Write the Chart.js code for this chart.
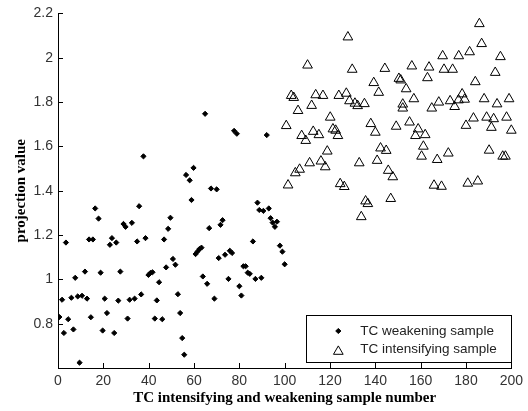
<!DOCTYPE html>
<html>
<head>
<meta charset="utf-8">
<script src="https://cdn.jsdelivr.net/npm/chart.js@4/dist/chart.umd.min.js"></script>
<style>
html,body{margin:0;padding:0;background:#fff;}
#wrap{width:528px;height:411px;position:relative;}
</style>
</head>
<body>
<div id="wrap"><canvas id="c" width="528" height="411"></canvas></div>
<script>
// ---- data ----
const weakeningLabel = "TC weakening sample";
const intensifyingLabel = "TC intensifying sample";

const weakX = [0.6,1.8,2.6,3.5,4.5,5.9,6.8,7.6,8.7,9.5,10.6,11.9,12.8,13.7,14.5,15.4,16.4,17.9,18.8,19.7,20.6,21.6,22.9,23.8,24.8,25.7,26.6,27.5,28.9,29.8,30.7,31.6,32.6,33.8,34.9,35.8,36.7,37.7,38.6,39.9,40.8,41.7,42.7,43.6,44.6,46,46.8,47.7,48.6,49.6,50.7,51.8,52.9,53.9,54.8,55.7,56.5,58.1,58.9,59.8,60.7,61.6,62.4,63.3,63.9,64.9,65.8,66.7,67.5,69,70,70.9,71.7,72.6,73.7,75.2,75.8,76.8,77.7,78.9,80,80.9,81.8,82.8,83.7,84.6,86,87.1,88,88.8,89.7,90.6,92.1,93,93.8,94.7,95.7,96.6,97.9,99,100];
const weakY = [0.83,0.908,0.758,1.166,0.82,0.917,0.774,1.007,0.923,0.624,0.926,1.035,0.913,1.18,0.829,1.18,1.32,1.274,1.03,0.769,0.913,0.848,1.156,1.186,0.758,1.166,0.904,1.035,1.25,1.237,0.823,0.908,1.255,0.913,1.171,1.33,0.932,1.555,1.186,1.02,1.029,1.032,0.823,0.905,0.987,0.82,1.18,1.054,1.228,1.278,1.092,1.066,0.933,0.848,0.735,0.66,1.471,1.447,1.358,1.503,1.114,1.126,1.137,1.143,1.013,1.747,0.98,1.231,1.41,0.913,1.406,1.096,1.246,1.267,1.111,1.002,1.129,1.119,1.67,1.657,0.969,0.927,1.059,1.059,1.03,1.025,1.171,1.002,1.346,1.313,1.007,1.309,1.651,1.32,1.276,1.256,1.237,1.26,1.152,1.125,1.068];

const intX = [127.9,110.1,129.8,144.2,150.4,151.2,139.3,141.5,153.6,102.9,104,113.7,116.9,123.9,127.2,105.9,111.9,128.6,131,132.2,135.2,152.1,152.1,120.1,100.7,107.5,109.3,112.6,115.1,121.3,122.5,123.5,138,140,149.2,118.8,142.3,144.8,111,116,117.9,132.9,140.8,104.7,106.6,145.7,147.7,101.5,124.5,126.3,135.7,136.7,146.8,133.8,
  185.9,186.9,169.7,176.8,181.6,195.2,156.1,163.7,170.3,174.1,192.9,163,184.1,157,164.9,168,173,176.7,178.3,179.4,175,188,193.7,199,155.1,158.9,157.7,162,161.2,160.4,167.3,172.2,180,183.3,189.1,192.2,191.2,197.9,200,190.2,196.2,197.4,165.9,169.2,180.8,185.2];
const intY = [2.093,1.966,1.947,1.951,1.906,1.899,1.887,1.843,1.859,1.829,1.82,1.832,1.829,1.829,1.839,1.761,1.784,1.805,1.794,1.783,1.792,1.79,1.772,1.731,1.693,1.648,1.626,1.667,1.652,1.678,1.672,1.648,1.702,1.663,1.69,1.578,1.592,1.581,1.525,1.533,1.507,1.525,1.536,1.48,1.496,1.491,1.462,1.425,1.431,1.418,1.353,1.341,1.364,1.282,
  2.153,2.063,2.008,2.008,2.026,2.004,1.962,1.957,1.947,1.947,1.933,1.909,1.891,1.814,1.772,1.799,1.805,1.809,1.836,1.812,1.779,1.814,1.791,1.814,1.709,1.678,1.648,1.652,1.6,1.555,1.54,1.569,1.694,1.727,1.731,1.724,1.685,1.731,1.672,1.582,1.555,1.555,1.424,1.419,1.433,1.443];

const xTicks = [0,20,40,60,80,100,120,140,160,180,200];
const yTicks = [0.8,1,1.2,1.4,1.6,1.8,2,2.2];
const xTitle = "TC intensifying and weakening sample number";
const yTitle = "projection value";

// ---- build ----
const toPts = (xs, ys) => xs.map((x, i) => ({x: x, y: ys[i]}));
const tickFont = {family: "'Liberation Sans',Arial,sans-serif", size: 14};
const titleFont = {family: "'Liberation Serif','Times New Roman',serif", size: 15, weight: 'bold'};

const weakStyle = {pointStyle: 'rectRot', radius: 2.6, backgroundColor: '#000', borderColor: '#000', borderWidth: 1};
const intStyle = {pointStyle: 'triangle', radius: 5.6, backgroundColor: 'rgba(0,0,0,0)', borderColor: '#000', borderWidth: 1};

const inwardTicks = {
  id: 'inwardTicks',
  afterDraw(chart) {
    const ctx = chart.ctx, xs = chart.scales.x, ys = chart.scales.y;
    const a = chart.chartArea;
    ctx.save();
    ctx.strokeStyle = '#000';
    ctx.lineWidth = 1;
    ctx.beginPath();
    xTicks.forEach(v => {
      const p = Math.round(xs.getPixelForValue(v)) + 0.5;
      ctx.moveTo(p, a.bottom); ctx.lineTo(p, a.bottom - 5);
    });
    yTicks.forEach(v => {
      const p = Math.round(ys.getPixelForValue(v)) + 0.5;
      ctx.moveTo(a.left, p); ctx.lineTo(a.left + 5, p);
    });
    ctx.stroke();
    ctx.restore();
  }
};

const boxLegend = {
  id: 'boxLegend',
  afterDraw(chart) {
    const ctx = chart.ctx, a = chart.chartArea;
    const right = a.right, bottom = a.bottom - 6;
    const w = 205, h = 47;
    const left = right - w, top = bottom - h;
    ctx.save();
    ctx.fillStyle = '#fff';
    ctx.fillRect(left, top, w, h);
    ctx.strokeStyle = '#000';
    ctx.lineWidth = 1;
    ctx.strokeRect(Math.round(left) + 0.5, Math.round(top) + 0.5, w, h);
    const items = chart.data.datasets;
    const rows = [top + 16, top + 34.5];
    items.forEach((ds, i) => {
      const opt = {pointStyle: ds.pointStyle, radius: ds.pointRadius, borderWidth: ds.borderWidth, rotation: 0};
      ctx.fillStyle = ds.backgroundColor;
      ctx.strokeStyle = ds.borderColor;
      ctx.lineWidth = ds.borderWidth;
      Chart.helpers.drawPoint(ctx, opt, left + 32, rows[i] + (i === 1 ? 2 : 0));
      ctx.fillStyle = '#222';
      ctx.font = "13.5px 'Liberation Sans',Arial,sans-serif";
      ctx.textBaseline = 'middle';
      ctx.textAlign = 'left';
      ctx.fillText(ds.label, left + 54, rows[i]);
    });
    ctx.restore();
  }
};

new Chart(document.getElementById('c'), {
  type: 'scatter',
  data: {
    datasets: [
      {label: weakeningLabel, data: toPts(weakX, weakY), pointStyle: weakStyle.pointStyle, pointRadius: weakStyle.radius, pointHoverRadius: weakStyle.radius, backgroundColor: weakStyle.backgroundColor, borderColor: weakStyle.borderColor, borderWidth: weakStyle.borderWidth},
      {label: intensifyingLabel, data: toPts(intX, intY), pointStyle: intStyle.pointStyle, pointRadius: intStyle.radius, pointHoverRadius: intStyle.radius, backgroundColor: intStyle.backgroundColor, borderColor: intStyle.borderColor, borderWidth: intStyle.borderWidth, clip: false}
    ]
  },
  options: {
    responsive: false,
    animation: false,
    events: [],
    layout: {padding: {left: 0, right: 16, top: 11, bottom: 0}},
    plugins: {legend: {display: false}, tooltip: {enabled: false}},
    scales: {
      x: {
        type: 'linear', min: 0, max: 200,
        afterBuildTicks: s => { s.ticks = xTicks.map(v => ({value: v})); },
        afterFit: s => { s.height = 43; },
        grid: {display: false, drawTicks: false},
        border: {display: true, color: '#000', width: 1},
        ticks: {font: tickFont, color: '#333', padding: 5, maxRotation: 0, autoSkip: false},
        title: {display: true, text: xTitle, font: titleFont, color: '#000', padding: {top: 0, bottom: 4}}
      },
      y: {
        type: 'linear', min: 0.6, max: 2.2,
        afterBuildTicks: s => { s.ticks = yTicks.map(v => ({value: v})); },
        afterFit: s => { s.width = 58; },
        grid: {display: false, drawTicks: false},
        border: {display: true, color: '#000', width: 1},
        ticks: {font: tickFont, color: '#333', padding: 5, autoSkip: false, callback: v => String(+Number(v).toFixed(1))},
        title: {display: true, text: yTitle, font: titleFont, color: '#000', padding: {top: 12, bottom: 0}}
      }
    }
  },
  plugins: [inwardTicks, boxLegend]
});
</script>
</body>
</html>
